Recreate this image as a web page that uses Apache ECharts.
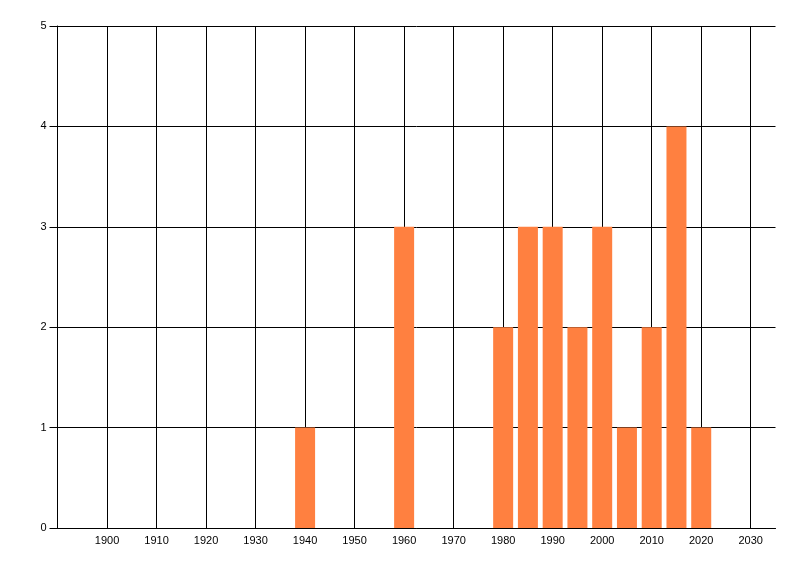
<!DOCTYPE html>
<html>
<head>
<meta charset="utf-8">
<script src="https://cdn.jsdelivr.net/npm/echarts@6/dist/echarts.min.js"></script>
<style>
  html, body { margin: 0; padding: 0; background: #fff; }
  #chart { width: 800px; height: 576px; }
</style>
</head>
<body>
<div id="chart"></div>
<script>
// years and counts
const years = [1940, 1960, 1980, 1985, 1990, 1995, 2000, 2005, 2010, 2015, 2020];
const counts = [1, 3, 2, 3, 3, 2, 3, 1, 2, 4, 1];
const xRange = [1890, 2035];
const yRange = [0, 5];

const myChart = echarts.init(document.getElementById("chart"));
const option = {
  animation: false,
  grid: {
    left: 57.5,
    right: 24.5,
    top: 26,
    bottom: 48,
  },
  xAxis: {
    type: "value",
    min: xRange[0],
    max: xRange[1],
    interval: 10,
    axisLine: { lineStyle: { color: "#000", width: 1 } },
    axisTick: { show: false },
    splitLine: {
      show: true,
      showMinLine: false,
      showMaxLine: false,
      lineStyle: { color: "#000", width: 1 },
    },
    axisLabel: {
      color: "#000",
      fontFamily: "Liberation Sans",
      fontSize: 11,
      margin: 7,
      showMinLabel: false,
      showMaxLabel: false,
      formatter: (v) => String(v),
    },
  },
  yAxis: {
    type: "value",
    min: yRange[0],
    max: yRange[1],
    interval: 1,
    axisLine: { show: true, lineStyle: { color: "#000", width: 1 } },
    axisTick: { show: true, length: 8, lineStyle: { color: "#000" } },
    splitLine: { show: true, lineStyle: { color: "#000", width: 1 } },
    axisLabel: {
      color: "#000",
      fontFamily: "Liberation Sans",
      fontSize: 11,
      margin: 11,
    },
  },
  series: [
    {
      type: "bar",
      barWidth: 20,
      itemStyle: { color: "#ff8040" },
      data: years.map((y, i) => [y, counts[i]]),
    },
  ],
};
myChart.setOption(option);
</script>
</body>
</html>
